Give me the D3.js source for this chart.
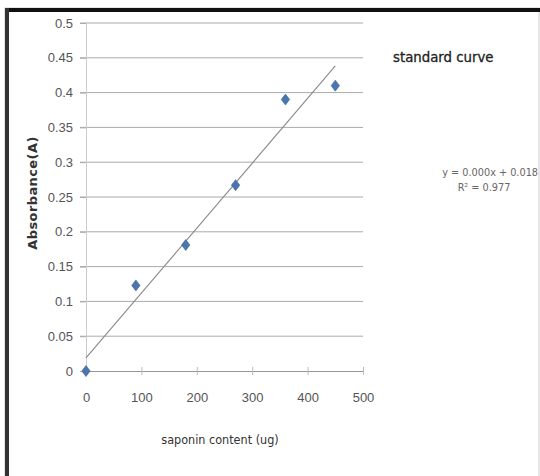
<!DOCTYPE html>
<html lang="en">
<head>
    <meta charset="UTF-8">
    <script src="https://cdn.jsdelivr.net/npm/d3@7/dist/d3.min.js"></script>
    <title>standard curve</title>
    <style>
        body { margin: 0; background: #fff; }
        svg { display: block; font-family: "DejaVu Sans", sans-serif; font-stretch: condensed; }
    </style>
</head>
<body>
    <svg id="chart"></svg>
<script>
    const saponin = [0, 90, 180, 270, 360, 450];
    const absorbance = [0, 0.123, 0.181, 0.267, 0.39, 0.41];
    const xTicks = [0, 100, 200, 300, 400, 500];
    const yTicks = [0, 0.05, 0.1, 0.15, 0.2, 0.25, 0.3, 0.35, 0.4, 0.45, 0.5];
    const equationText = "y = 0.000x + 0.018";
    const r2Text = "R² = 0.977";

    const width = 540, height = 476;
    const svg = d3.select("#chart").attr("width", width).attr("height", height);

    // outer frame like the screenshot
    svg.append("rect").attr("x", 5).attr("y", 8).attr("width", width - 6).attr("height", height)
        .attr("fill", "#fff").attr("stroke", "#ccc");
    svg.append("rect").attr("x", 5).attr("y", 8).attr("width", width - 5).attr("height", 4).attr("fill", "#111");
    svg.append("rect").attr("x", 5).attr("y", 8).attr("width", 4).attr("height", height).attr("fill", "#333");

    const x = d3.scaleLinear().domain([0, 500]).range([86, 363]);
    const y = d3.scaleLinear().domain([0, 0.5]).range([371, 23]);

    // gridlines
    svg.append("g").selectAll("line").data(yTicks.filter(d => d > 0)).join("line")
        .attr("x1", x(0) - 6).attr("x2", x(500))
        .attr("y1", d => y(d)).attr("y2", d => y(d))
        .attr("stroke", "#aaa").attr("stroke-width", 1);

    // y axis
    const yAxis = svg.append("g").attr("transform", `translate(${x(0)},0)`)
        .call(d3.axisLeft(y).tickValues(yTicks).tickFormat(d => d3.format("")(+d.toFixed(2))).tickSize(6).tickPadding(7));
    yAxis.select(".domain").attr("stroke", "#ccc");
    yAxis.selectAll(".tick line").attr("stroke", "#aaa");
    yAxis.selectAll("text").attr("fill", "#555").attr("font-size", 13);

    // x axis
    const xAxis = svg.append("g").attr("transform", `translate(0,${y(0)})`)
        .call(d3.axisBottom(x).tickValues(xTicks).tickSize(4).tickPadding(18));
    xAxis.select(".domain").attr("stroke", "#999");
    xAxis.selectAll(".tick line").attr("stroke", "#bbb").attr("y1", -4);
    xAxis.selectAll("text").attr("fill", "#555").attr("font-size", 13);

    // linear trendline from the data
    const mx = d3.mean(saponin), my = d3.mean(absorbance);
    const slope = d3.sum(saponin, (v, i) => (v - mx) * (absorbance[i] - my)) / d3.sum(saponin, v => (v - mx) ** 2);
    const intercept = my - slope * mx;
    const xMax = d3.max(saponin);
    svg.append("line")
        .attr("x1", x(0)).attr("y1", y(intercept))
        .attr("x2", x(xMax)).attr("y2", y(intercept + slope * xMax))
        .attr("stroke", "#888").attr("stroke-width", 1.1);

    // markers
    svg.append("g").selectAll("path").data(saponin).join("path")
        .attr("transform", (d, i) => `translate(${x(d)},${y(absorbance[i])})`)
        .attr("d", "M0,-5.5L4.2,0L0,5.5L-4.2,0Z")
        .attr("fill", "#4a76ad").attr("stroke", "#3d6699").attr("stroke-width", 0.6);

    // titles
    svg.append("text")
        .attr("transform", `translate(37,193) rotate(-90)`)
        .attr("text-anchor", "middle").attr("font-size", 13).attr("font-weight", "bold")
        .attr("font-stretch", "normal").attr("letter-spacing", 0.4)
        .attr("fill", "#333").text("Absorbance(A)");

    svg.append("text").attr("x", 220).attr("y", 444)
        .attr("text-anchor", "middle").attr("font-size", 12.5).attr("fill", "#333")
        .text("saponin content (ug)");

    svg.append("text").attr("x", 393).attr("y", 62)
        .attr("font-size", 14.8).attr("fill", "#222").attr("stroke", "#222").attr("stroke-width", 0.3)
        .text("standard curve");

    svg.append("text").attr("x", 538).attr("y", 176)
        .attr("text-anchor", "end").attr("font-size", 10.8).attr("fill", "#666").text(equationText);
    svg.append("text").attr("x", 484).attr("y", 191)
        .attr("text-anchor", "middle").attr("font-size", 10.8).attr("fill", "#666").text(r2Text);
</script>
</body>
</html>
